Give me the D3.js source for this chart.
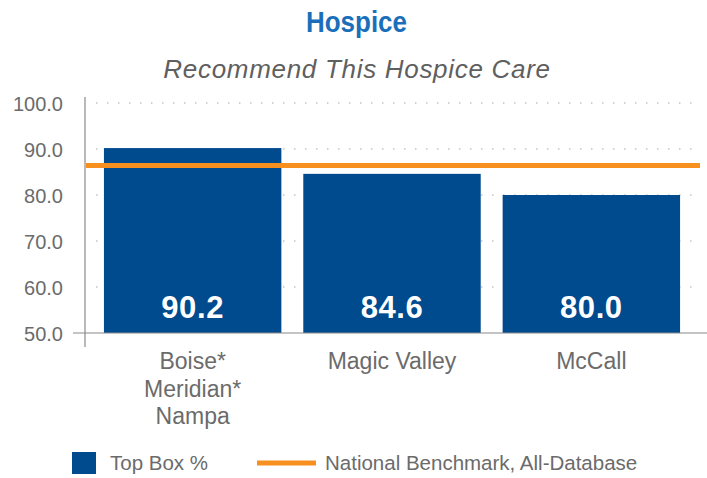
<!DOCTYPE html>
<html>
<head>
<meta charset="utf-8">
<script src="https://cdn.jsdelivr.net/npm/d3@7"></script>
<style>
  body { margin: 0; background: #fff; }
  svg { font-family: "Liberation Sans", Arial, sans-serif; }
</style>
</head>
<body>
<div id="chart"></div>
<script>
// data
const categories = [["Boise*", "Meridian*", "Nampa"], ["Magic Valley"], ["McCall"]];
const topBox = [90.2, 84.6, 80.0];
const benchmark = 86.4;
const yTicks = [50, 60, 70, 80, 90, 100];

const W = 707, H = 478;
const blue = "#004a8e", orange = "#f7901e", grey = "#6b6b6b";

const svg = d3.select("#chart").append("svg").attr("width", W).attr("height", H);

// scales
const x = d3.scaleBand().domain(d3.range(topBox.length)).range([84, 700]).paddingInner(0.11).paddingOuter(0.1);
const y = d3.scaleLinear().domain([50, 100]).range([333, 103]);

// titles
svg.append("text").attr("x", 306).attr("y", 32)
  .attr("textLength", 101).attr("lengthAdjust", "spacingAndGlyphs")
  .style("font-weight", "bold").style("font-size", "30px").attr("fill", "#1b6fba").text("Hospice");
svg.append("text").attr("x", 357).attr("y", 78).attr("text-anchor", "middle")
  .style("font-style", "italic").style("font-size", "26px").style("letter-spacing", "0.7px")
  .attr("fill", "#5f5f5f").text("Recommend This Hospice Care");

// dotted grid
svg.append("g").selectAll("line").data(yTicks.slice(1)).enter().append("line")
  .attr("x1", 96).attr("x2", 700).attr("y1", d => y(d)).attr("y2", d => y(d))
  .attr("stroke", "#c4c4c4").attr("stroke-width", 1.5).attr("stroke-dasharray", "1.5,9.5");

// bars
svg.append("g").selectAll("rect").data(topBox).enter().append("rect")
  .attr("x", (d, i) => x(i)).attr("width", x.bandwidth())
  .attr("y", d => y(d)).attr("height", d => y(50) - y(d)).attr("fill", blue);

// value labels
svg.append("g").selectAll("text").data(topBox).enter().append("text")
  .attr("x", (d, i) => x(i) + x.bandwidth() / 2).attr("y", 318).attr("text-anchor", "middle")
  .style("font-weight", "bold").style("font-size", "31px").style("letter-spacing", "0.6px")
  .attr("fill", "#fff").text(d => d.toFixed(1));

// benchmark line
svg.append("line").attr("x1", 86).attr("x2", 700).attr("y1", y(benchmark)).attr("y2", y(benchmark))
  .attr("stroke", orange).attr("stroke-width", 5);

// y axis
const yAxis = d3.axisLeft(y).tickValues(yTicks).tickFormat(d3.format(".1f")).tickSize(0).tickPadding(22);
const gy = svg.append("g").attr("transform", "translate(85,0)").call(yAxis);
gy.select(".domain").remove();
gy.selectAll("text").attr("dy", "0.38em").style("font-size", "20px").attr("fill", grey)
  .style("font-family", "'Liberation Sans', Arial, sans-serif");
svg.append("line").attr("x1", 85).attr("x2", 85).attr("y1", 97).attr("y2", 347).attr("stroke", "#8a8a8a").attr("stroke-width", 1.2);
svg.append("line").attr("x1", 73).attr("x2", 707).attr("y1", y(50)).attr("y2", y(50)).attr("stroke", "#8a8a8a").attr("stroke-width", 1.2);

// category labels
const cat = svg.append("g").selectAll("text").data(categories).enter().append("text")
  .attr("text-anchor", "middle").style("font-size", "23px").attr("fill", grey)
  .attr("transform", (d, i) => "translate(" + (x(i) + x.bandwidth() / 2) + ",369)");
cat.selectAll("tspan").data(d => d).enter().append("tspan")
  .attr("x", 0).attr("dy", (d, i) => i ? 27.5 : 0).text(d => d);

// legend
const lg = svg.append("g");
lg.append("rect").attr("x", 72).attr("y", 452).attr("width", 24).attr("height", 22).attr("fill", blue);
lg.append("text").attr("x", 110).attr("y", 470).style("font-size", "20.5px").attr("fill", grey).text("Top Box %");
lg.append("line").attr("x1", 257).attr("x2", 316).attr("y1", 463).attr("y2", 463).attr("stroke", orange).attr("stroke-width", 5);
lg.append("text").attr("x", 325).attr("y", 470).style("font-size", "20.5px").attr("fill", grey).text("National Benchmark, All-Database");
</script>
</body>
</html>
